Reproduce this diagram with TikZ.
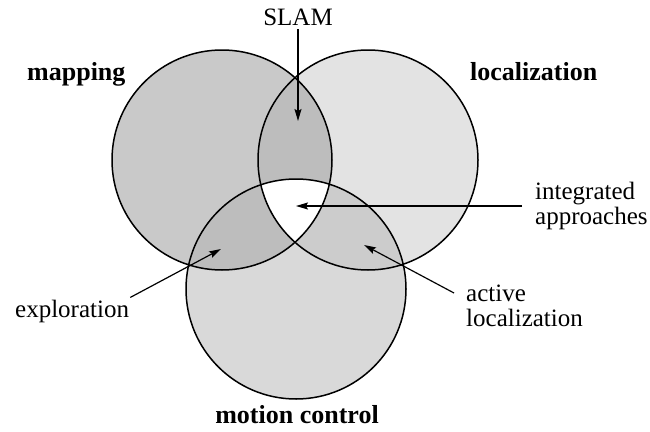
\documentclass[tikz,border=0pt]{standalone}
\usepackage{fontspec}
\setmainfont{Liberation Serif}
\usetikzlibrary{arrows.meta}
\definecolor{mapgray}{gray}{0.79}
\definecolor{locgray}{gray}{0.89}
\definecolor{motgray}{gray}{0.85}
\definecolor{slamgray}{gray}{0.74}
\definecolor{expgray}{gray}{0.74}
\definecolor{actgray}{gray}{0.80}

\begin{document}
\begin{tikzpicture}[x=1pt,y=-1pt,
    lbl/.style={inner sep=0pt,font=\fontsize{25}{25}\selectfont},
    head/.style={inner sep=0pt,font=\fontsize{26}{26}\selectfont\bfseries},
    ptr/.style={line width=1.2pt,-{Stealth[length=12pt,width=7pt,inset=2pt]}},
    rim/.style={line width=1.5pt}]
    \useasboundingbox (0,0) rectangle (650,431);
    \fill[white] (0,0) rectangle (650,431);
    \coordinate (cmap) at (222,160);
    \coordinate (cloc) at (368,160);
    \coordinate (cmot) at (296,289);
    \fill[mapgray] (cmap) circle (110pt);
    \fill[locgray] (cloc) circle (110pt);
    \fill[motgray] (cmot) circle (110pt);
    \begin{scope}
      \clip (cmap) circle (110pt);
      \fill[slamgray] (cloc) circle (110pt);
      \fill[expgray] (cmot) circle (110pt);
    \end{scope}
    \begin{scope}
      \clip (cloc) circle (110pt);
      \fill[actgray] (cmot) circle (110pt);
    \end{scope}
    \begin{scope}
      \clip (cmap) circle (110pt);
      \clip (cloc) circle (110pt);
      \fill[white] (cmot) circle (110pt);
    \end{scope}
    \foreach \c in {cmap,cloc,cmot}
    {
      \draw[rim] (\c) circle (110pt);
    }
    \node[head,anchor=base west] (mapping) at (27,80) {mapping};
    \node[head,anchor=base west] (localization) at (470,80) {localization};
    \node[head,anchor=base] (motion) at (297,423) {motion control};
    \node[lbl,anchor=base] (slam) at (298,25) {SLAM};
    \node[lbl,anchor=west,align=left] (integ) at (535,206) {integrated\\approaches};
    \node[lbl,anchor=base west] (explo) at (15,317) {exploration};
    \node[lbl,anchor=north west,align=left] (actloc) at (466,285) {active\\localization};
    \coordinate (slamtip) at (298,121);
    \coordinate (integtip) at (296,206);
    \coordinate (explotip) at (221,249);
    \coordinate (acttip) at (364,245);
    \draw[ptr,shorten <=4pt] (slam.south) -- (slamtip);
    \draw[ptr,shorten <=13pt] (integ.west) -- (integtip);
    \draw[ptr] ([xshift=1pt,yshift=2pt]explo.north east) -- (explotip);
    \draw[ptr] ([xshift=-12pt,yshift=-8pt]actloc.north west) -- (acttip);
\end{tikzpicture}
\end{document}
